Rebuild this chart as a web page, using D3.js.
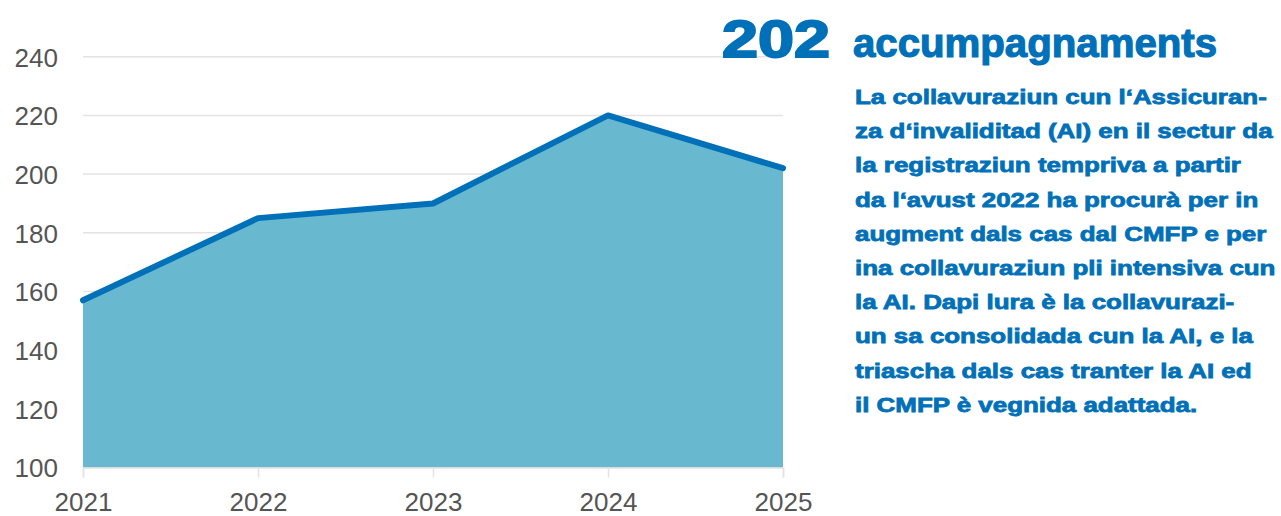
<!DOCTYPE html>
<html>
<head>
<meta charset="utf-8">
<script src="https://cdn.jsdelivr.net/npm/d3@7"></script>
<style>
  html, body { margin: 0; padding: 0; background: #fff; }
  svg { display: block; }
</style>
</head>
<body>
<svg id="chart" width="1281" height="516"></svg>
<script>
const years = ["2021", "2022", "2023", "2024", "2025"];
const values = [157, 185, 190, 220, 202];
const yTicks = [100, 120, 140, 160, 180, 200, 220, 240];
const titleNumber = "202";
const titleWord = "accumpagnaments";
const bodyLines = [
  "La collavuraziun cun l\u2018Assicuran-",
  "za d\u2018invaliditad (AI) en il sectur da",
  "la registraziun tempriva a partir",
  "da l\u2018avust 2022 ha procurà per in",
  "augment dals cas dal CMFP e per",
  "ina collavuraziun pli intensiva cun",
  "la AI. Dapi lura è la collavurazi-",
  "un sa consolidada cun la AI, e la",
  "triascha dals cas tranter la AI ed",
  "il CMFP è vegnida adattada."
];

const svg = d3.select("#chart");
const blue = "#0070b8";
const fillCol = "#68b9cf";
const gridCol = "#e3e3e3";
const labelCol = "#555555";
const font = "'Liberation Sans', Arial, Helvetica, sans-serif";

const x = d3.scalePoint().domain(years).range([83, 783]);
const y = d3.scaleLinear().domain([100, 240]).range([467.6, 56.7]);

// grid lines
svg.append("g").selectAll("line").data(yTicks).join("line")
  .attr("x1", 83).attr("x2", 783)
  .attr("y1", d => y(d)).attr("y2", d => y(d))
  .attr("stroke", gridCol).attr("stroke-width", 1.5);

// y labels
const yAxis = svg.append("g").attr("transform", "translate(58,0)")
  .call(d3.axisLeft(y).tickValues(yTicks).tickSize(0).tickPadding(0));
yAxis.select(".domain").remove();
yAxis.selectAll("text")
  .attr("font-family", font).attr("font-size", 26).attr("fill", labelCol)
  .attr("dy", "0.36em");

// area + line
const data = years.map((yr, i) => ({ yr, v: values[i] }));
svg.append("path").datum(data)
  .attr("fill", fillCol)
  .attr("d", d3.area().x(d => x(d.yr)).y0(y(100)).y1(d => y(d.v)));

// x axis
const xAxis = svg.append("g").attr("transform", `translate(0,${y(100)})`)
  .call(d3.axisBottom(x).tickSize(10).tickPadding(15));
xAxis.select(".domain").attr("stroke", gridCol).attr("stroke-width", 1.5);
xAxis.selectAll(".tick line").attr("stroke", gridCol).attr("stroke-width", 1.5);
xAxis.selectAll("text")
  .attr("font-family", font).attr("font-size", 26).attr("fill", labelCol);

svg.append("path").datum(data)
  .attr("fill", "none").attr("stroke", blue).attr("stroke-width", 6)
  .attr("stroke-linejoin", "round").attr("stroke-linecap", "round")
  .attr("d", d3.line().x(d => x(d.yr)).y(d => y(d.v)));

// title
svg.append("text").text(titleNumber)
  .attr("x", 722).attr("y", 57)
  .attr("font-family", font).attr("font-weight", "bold").attr("font-size", 52)
  .attr("fill", blue).attr("stroke", blue).attr("stroke-width", 2)
  .attr("textLength", 108).attr("lengthAdjust", "spacingAndGlyphs");
svg.append("text").text(titleWord)
  .attr("x", 853).attr("y", 57)
  .attr("font-family", font).attr("font-weight", "bold").attr("font-size", 41)
  .attr("fill", blue).attr("stroke", blue).attr("stroke-width", 1.2)
  .attr("textLength", 364).attr("lengthAdjust", "spacingAndGlyphs");

// body text
const body = svg.append("g");
const bt = body.selectAll("text").data(bodyLines).join("text")
  .text(d => d)
  .attr("x", 0).attr("y", (d, i) => 104 + i * 34.2)
  .attr("font-family", font).attr("font-weight", "bold").attr("font-size", 20.5)
  .attr("fill", blue).attr("stroke", blue).attr("stroke-width", 0.8);
const w0 = bt.nodes()[0].getComputedTextLength();
const sx = 412 / w0;
body.attr("transform", `translate(855,0) scale(${sx},1)`);
</script>
</body>
</html>
